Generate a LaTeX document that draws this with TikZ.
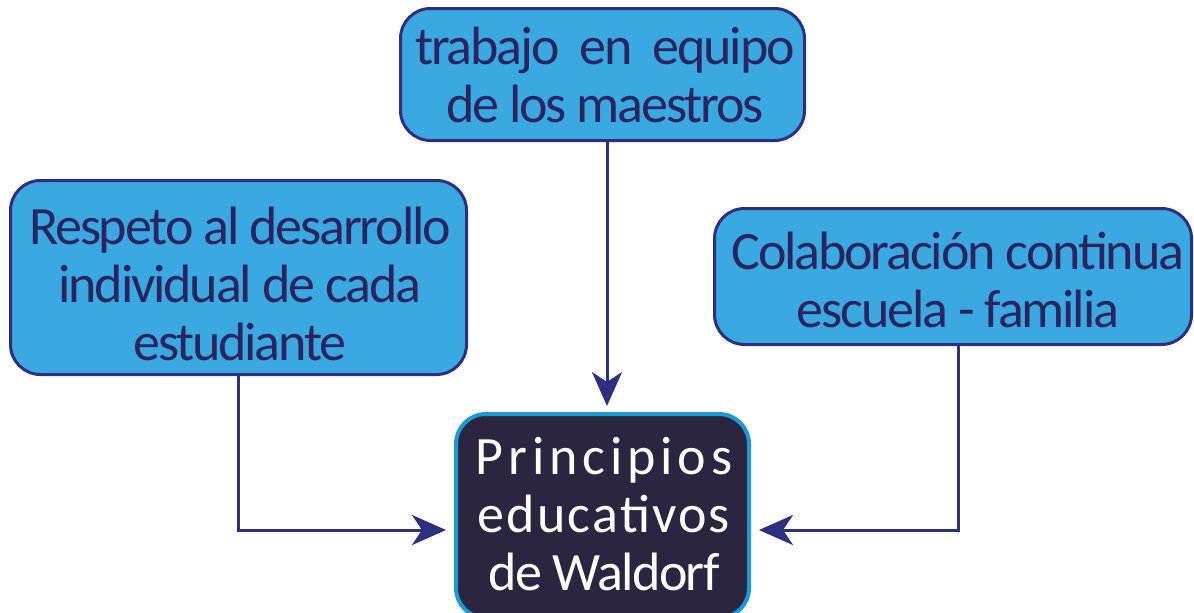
\documentclass[tikz,border=0pt]{standalone}
\usepackage{fontspec}
\setmainfont{Carlito}
\usetikzlibrary{arrows.meta}
\definecolor{boxfill}{HTML}{3AA9E1}
\definecolor{boxline}{HTML}{2E2F7F}
\definecolor{txt}{HTML}{2A2561}
\definecolor{darkfill}{HTML}{2C2540}
\definecolor{cyanline}{HTML}{1A9AD6}
\tikzset{
  x=1pt, y=-1pt,
  lbox/.style={draw=boxline, line width=3pt, fill=boxfill, rounded corners=30pt, inner sep=0pt},
  ltext/.style={text=txt, align=center, inner sep=0pt, anchor=base, font=\fontsize{54}{58}\selectfont\addfontfeature{LetterSpace=-4}},
  dbox/.style={draw=cyanline, line width=4pt, fill=darkfill, rounded corners=30pt, inner sep=0pt},
  dtext/.style={text=white, align=center, inner sep=0pt, anchor=base, font=\fontsize{54}{58}\selectfont},
  conn/.style={draw=boxline, line width=3pt, -{Stealth[length=34pt, width=30pt, inset=10pt]}},
}
\begin{document}
\begin{tikzpicture}
\useasboundingbox (0,0) rectangle (1194,613);
\node[lbox, minimum width=404pt, minimum height=132pt] (top) at (602.5,74.5) {};
\node[ltext] (toptext) at (605,122) {trabajo\ \ en\ \ equipo\\de los maestros};
\node[lbox, minimum width=456pt, minimum height=194pt] (left) at (238.5,277.5) {};
\node[ltext] (lefttext) at (240,360) {Respeto al desarrollo\\individual de cada\\estudiante};
\node[lbox, minimum width=477pt, minimum height=136pt] (right) at (953,276.5) {};
\node[ltext] (righttext) at (958,327) {Colaboración continua\\escuela - familia};
\node[dbox, minimum width=293pt, minimum height=204pt] (center) at (602.5,516) {};
\node[dtext] (centertext) at (604,590) {{\addfontfeature{LetterSpace=9}Principios}\\{\addfontfeature{LetterSpace=4}educativos}\\{\addfontfeature{LetterSpace=-3}de Waldorf}};
\coordinate (lc) at (238,530);
\coordinate (rc) at (958,530);
\draw[conn] (top.south -| 607,0) -- (607,406);
\draw[conn] (left.south -| lc) -- (lc) -- (446,530);
\draw[conn] (right.south -| rc) -- (rc) -- (759,530);
\end{tikzpicture}
\end{document}
